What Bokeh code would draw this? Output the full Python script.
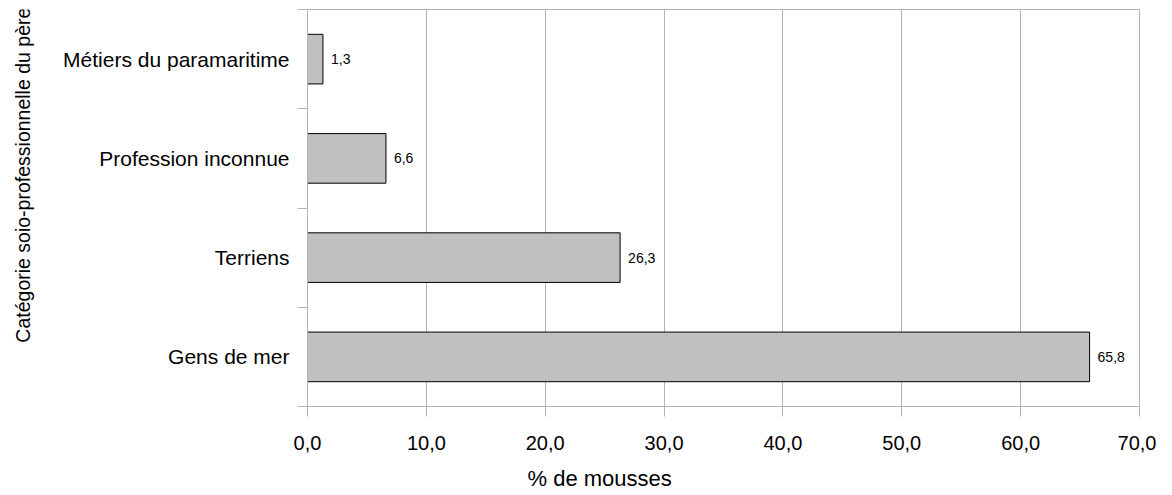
import math
from bokeh.plotting import figure
from bokeh.models import ColumnDataSource, FixedTicker, Range1d
from bokeh.layouts import row, column
from bokeh.core.properties import value
from bokeh.embed import file_html
from bokeh.resources import INLINE

categories = ["Gens de mer", "Terriens", "Profession inconnue", "Métiers du paramaritime"]
values = [65.8, 26.3, 6.6, 1.3]
x_ticks = [0, 10, 20, 30, 40, 50, 60, 70]
x_tick_labels = ["0,0", "10,0", "20,0", "30,0", "40,0", "50,0", "60,0", "70,0"]
x_title = "% de mousses"
y_title = "Catégorie soio-professionnelle du père"

FONT = "Liberation Sans"
GRID = "#b3b3b3"

ypos = [i + 0.5 for i in range(len(categories))]
src = ColumnDataSource(dict(
    y=ypos, v=values,
    lab=[f"{v:.1f}".replace(".", ",") for v in values],
))

TOTAL_W = 1156
MAIN_H = 460        # height of the row holding the chart
BOT_H = 34          # strip below holding the horizontal axis title
TW = 40             # strip on the left holding the vertical axis title
W = TOTAL_W - TW


def blank_strip(w, h):
    f = figure(width=w, height=h, output_backend="svg", toolbar_location=None,
               x_range=Range1d(0, w), y_range=Range1d(h, 0))
    f.min_border = 0
    f.min_border_left = f.min_border_right = f.min_border_top = f.min_border_bottom = 0
    f.axis.visible = False
    f.grid.visible = False
    f.outline_line_color = None
    f.background_fill_color = "white"
    f.border_fill_color = "white"
    return f


# --- strip with the vertical axis title (reads bottom to top) ---
t = blank_strip(TW, MAIN_H)
t.text(x=[22], y=[386], text=[y_title], angle=math.pi / 2,
       text_font=value(FONT), text_font_size="19.5px", text_color="black",
       text_align="left", text_baseline="middle")

# --- strip with the horizontal axis title ---
b = blank_strip(TOTAL_W, BOT_H)
b.text(x=[527], y=[18], text=[x_title],
       text_font=value(FONT), text_font_size="22px", text_color="black",
       text_align="left", text_baseline="middle")

# --- main chart ---
p = figure(width=W, height=MAIN_H, output_backend="svg", toolbar_location=None,
           x_range=Range1d(0, 70), y_range=Range1d(0, len(categories)))
p.min_border_left = 307 - TW
p.min_border_right = TOTAL_W - 1139
p.min_border_top = 9
p.min_border_bottom = MAIN_H - 406
p.background_fill_color = "white"
p.border_fill_color = "white"
p.outline_line_color = GRID
p.outline_line_width = 1

p.hbar(y="y", right="v", left=0, height=0.5, source=src,
       fill_color="#c0c0c0", line_color="black", line_width=1)
p.text(x="v", y="y", text="lab", source=src, x_offset=8,
       text_font=value(FONT), text_font_size="14px", text_color="black",
       text_baseline="middle", text_align="left")

# x axis
p.xaxis.ticker = FixedTicker(ticks=x_ticks)
p.xaxis.major_label_overrides = {tk: l for tk, l in zip(x_ticks, x_tick_labels)}
p.xaxis.major_label_text_font = FONT
p.xaxis.major_label_text_font_size = "20px"
p.xaxis.major_label_text_color = "black"
p.xaxis.major_label_standoff = 19
p.xaxis.axis_line_color = GRID
p.xaxis.major_tick_line_color = GRID
p.xaxis.major_tick_out = 10
p.xaxis.major_tick_in = 0
p.xaxis.minor_tick_line_color = None
p.xgrid.grid_line_color = GRID
p.xgrid.ticker = FixedTicker(ticks=x_ticks)

# y axis
p.yaxis.ticker = FixedTicker(ticks=ypos, minor_ticks=list(range(len(categories) + 1)))
p.yaxis.major_label_overrides = {y: c for y, c in zip(ypos, categories)}
p.yaxis.major_label_text_font = FONT
p.yaxis.major_label_text_font_size = "21px"
p.yaxis.major_label_text_color = "black"
p.yaxis.major_label_standoff = 8
p.yaxis.major_tick_line_color = None
p.yaxis.major_tick_out = 0
p.yaxis.minor_tick_line_color = GRID
p.yaxis.minor_tick_out = 10
p.yaxis.minor_tick_in = 0
p.yaxis.axis_line_color = GRID
p.ygrid.grid_line_color = None

layout = column(row(t, p, spacing=0), b, spacing=0)
open("out.html", "w").write(file_html(layout, INLINE))
